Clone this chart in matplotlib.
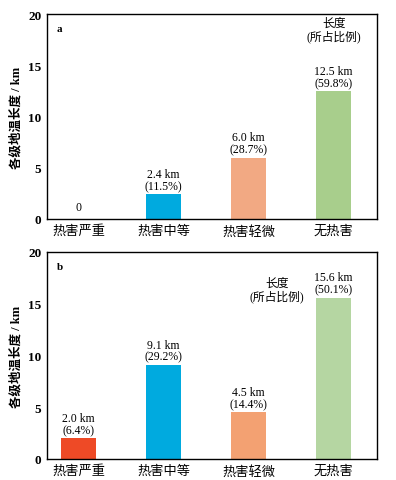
import matplotlib
matplotlib.use('Agg')
import matplotlib.pyplot as plt

plt.rcParams['font.family'] = ['Liberation Serif', 'Noto Sans CJK SC']

categories = ['热害严重', '热害中等', '热害轻微', '无热害']
lengths_a = [0.0, 2.4, 6.0, 12.5]
shares_a = [None, 11.5, 28.7, 59.8]
lengths_b = [2.0, 9.1, 4.5, 15.6]
shares_b = [6.4, 29.2, 14.4, 50.1]
yticks = [0, 5, 10, 15, 20]

colors_a = ['#EE4A26', '#00AADF', '#F2A983', '#A8CE8C']
colors_b = ['#EE4A26', '#00AADF', '#F3A172', '#B5D6A2']


def draw_panel(ax, lengths, shares, colors, letter):
    x = range(len(categories))
    ax.bar(x, lengths, width=0.41, color=colors)
    for i, (v, s) in enumerate(zip(lengths, shares)):
        if s is None:
            ax.text(i, v + 0.6, '0', ha='center', va='bottom', fontsize=8.5)
        else:
            ax.text(i, v + 0.2, f'{v:.1f} km\n({s}%)', ha='center', va='bottom',
                    fontsize=8.5, linespacing=1.0)
    ax.set_xlim(-0.37, 3.51)
    ax.set_ylim(0, 20)
    ax.set_yticks(yticks)
    ax.set_xticks(list(x))
    ax.set_xticklabels(categories, fontsize=9)
    ax.tick_params(axis='both', length=0, labelsize=9.5, pad=4)
    for lbl in ax.get_yticklabels():
        lbl.set_fontweight('bold')
    ax.set_ylabel('各级地温长度 / km', fontsize=9, fontweight='bold')
    ax.text(0.03, 0.95, letter, transform=ax.transAxes, fontsize=8,
            fontweight='bold', va='top')
    for sp in ax.spines.values():
        sp.set_linewidth(1.0)


fig = plt.figure(figsize=(3.96, 4.81), dpi=100)
ax1 = fig.add_axes([47 / 396, 1 - 220 / 481, 330 / 396, 205 / 481])
ax2 = fig.add_axes([47 / 396, 1 - 460 / 481, 330 / 396, 207 / 481])

draw_panel(ax1, lengths_a, shares_a, colors_a, 'a')
draw_panel(ax2, lengths_b, shares_b, colors_b, 'b')

ax1.text(3.0, 17.2, '长度\n(所占比例)', ha='center', va='bottom', fontsize=8.5,
         linespacing=1.1)
ax2.text(2.33, 15.1, '长度\n(所占比例)', ha='center', va='bottom', fontsize=8.5,
         linespacing=1.1)

fig.savefig('out.png', dpi=100)
